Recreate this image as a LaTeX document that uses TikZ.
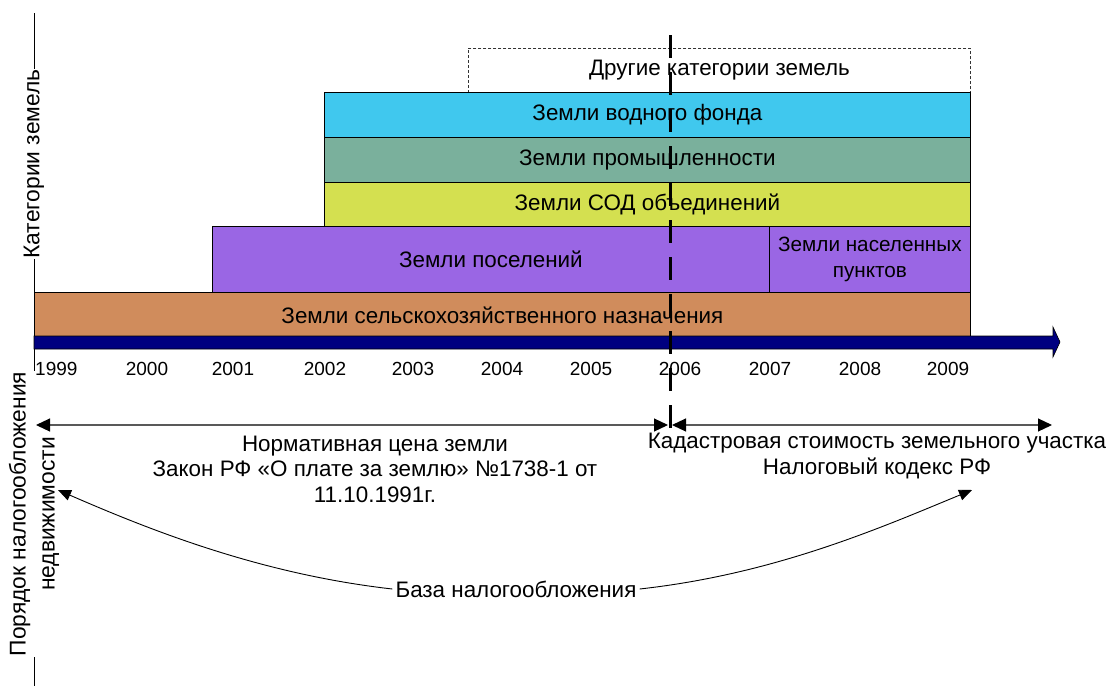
\documentclass[tikz,border=0pt]{standalone}
\usepackage{fontspec}
\setmainfont{Liberation Sans}
\usetikzlibrary{arrows.meta}
\definecolor{water}{HTML}{40C8EE}
\definecolor{industry}{HTML}{7AB09C}
\definecolor{garden}{HTML}{D4E050}
\definecolor{settle}{HTML}{9A66E4}
\definecolor{agro}{HTML}{D08C5C}
\definecolor{axisblue}{HTML}{000080}
\begin{document}
\begin{tikzpicture}[x=1pt,y=-1pt,
  every node/.style={font=\fontsize{22.4}{25.5}\selectfont},
  band/.style={draw=black, line width=0.8pt, anchor=north west, inner sep=0pt, align=center},
  yearlbl/.style={anchor=center, inner sep=0pt, font=\fontsize{19}{22}\selectfont},
  sidelbl/.style={fill=white, rotate=90, align=center, inner sep=1pt, font=\fontsize{22.8}{29}\selectfont},
  span/.style={draw=black!65, line width=1.1pt, {Triangle[length=14pt,width=13pt,black]}-{Triangle[length=14pt,width=13pt,black]}},
  curvearrow/.style={draw=black, line width=0.9pt, -{Triangle[length=13pt,width=11pt]}},
  txt/.style={align=center, inner sep=0pt}
]
\useasboundingbox (0,0) rectangle (1108,686);

% left vertical guide with its two rotated captions
\coordinate (guideTop) at (34,13);
\coordinate (guideBot) at (34,686);
\draw[line width=0.8pt] (guideTop) -- (guideBot);
\node[sidelbl] (cat) at (34,164) {Категории земель};
\node[sidelbl] (order) at (34,514) {Порядок налогообложения\\недвижимости};

% land category bands
\node[band, dash pattern=on 3pt off 2pt, draw=black!80, line width=0.9pt,
      minimum width=502pt, minimum height=44pt] (other) at (468,48) {};
\node at (other.center) {Другие категории земель};
\node[band, fill=water, minimum width=646pt, minimum height=45pt] (water) at (324,92) {};
\node at (water.center) {Земли водного фонда};
\node[band, fill=industry, minimum width=646pt, minimum height=45pt] (ind) at (324,137) {};
\node at (ind.center) {Земли промышленности};
\node[band, fill=garden, minimum width=646pt, minimum height=44pt] (sod) at (324,182) {};
\node at (sod.center) {Земли СОД объединений};
\node[band, fill=settle, minimum width=557pt, minimum height=66pt] (pos) at (212,226) {};
\node at (pos.center) {Земли поселений};
\node[band, fill=settle, minimum width=201pt, minimum height=66pt] (np) at (769,226) {};
\node[txt, font=\fontsize{20.7}{26}\selectfont] at (np.center) {Земли населенных\\пунктов};
\node[band, fill=agro, minimum width=936pt, minimum height=45pt] (agro) at (34,292) {};
\node at (agro.center) {Земли сельскохозяйственного назначения};

% time axis
\filldraw[fill=axisblue, draw=black, line width=0.6pt]
  (34,336) -- (1053,336) -- (1053,327) -- (1060,342) -- (1053,357) -- (1053,349) -- (34,349) -- cycle;
\node[yearlbl, anchor=west] (y1999) at (35,369) {1999};
\foreach \yr/\xx in {2000/147,2001/233,2002/325,2003/413,2004/502,2005/591,2006/680,2007/770,2008/860,2009/948}
  \node[yearlbl] (y\yr) at (\xx,369) {\yr};

% 2006 boundary
\coordinate (cutTop) at (670,35);
\coordinate (cutBot) at (670,428);
\draw[line width=3pt, dash pattern=on 23pt off 14pt] (cutTop) -- (cutBot);

% two periods of taxation base
\coordinate (leftEnd) at (36,425);
\coordinate (cutL) at (668,425);
\coordinate (cutR) at (672,425);
\coordinate (rightEnd) at (1052,425);
\draw[span] (leftEnd) -- (cutL);
\draw[span] (cutR) -- (rightEnd);

\node[txt] (norm) at (375,469) {Нормативная цена земли\\Закон РФ «О плате за землю» №1738-1 от\\11.10.1991г.};
\node[txt] (cad) at (877,456) {Кадастровая стоимость земельного участка\\Налоговый кодекс РФ};

% common base with curved pointers
\node[txt, inner sep=3pt] (base) at (516,589) {База налогообложения};
\coordinate (tipL) at (58,490);
\coordinate (tipR) at (972,490);
\draw[curvearrow] (base.west) .. controls (260,574) and (150,530) .. (tipL);
\draw[curvearrow] (base.east) .. controls (775,574) and (880,528) .. (tipR);
\end{tikzpicture}
\end{document}
